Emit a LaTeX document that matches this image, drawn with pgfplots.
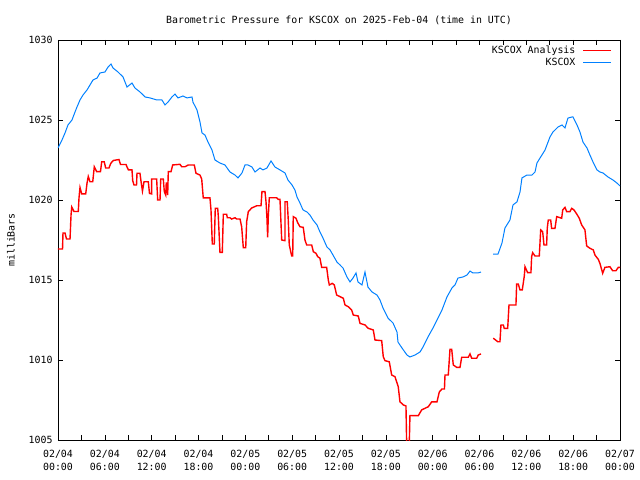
\documentclass[border=0pt]{standalone}
\usepackage{fontspec}
\setmainfont{DejaVu Sans Mono}
\usepackage{pgfplots}
\pgfplotsset{compat=1.18}
\definecolor{gred}{RGB}{255,0,0}
\definecolor{gblue}{RGB}{0,128,255}
\newcommand{\gfont}{\fontsize{9.9bp}{13bp}\selectfont}
\begin{document}
\begin{tikzpicture}
\path[use as bounding box] (-58bp,-40bp) rectangle (582bp,440bp);
\begin{axis}[
  scale only axis, width=562bp, height=400bp,
  at={(0,0)}, anchor=south west,
  xmin=0, xmax=72, ymin=1005, ymax=1030,
  axis line style={line width=0.9bp, black},
  every tick/.style={black, line width=0.6bp},
  major tick length=5bp, minor tick length=5bp,
  tick align=inside,
  xtick={0,6,...,72}, minor xtick={3,9,...,69},
  xticklabels={{02/04\\00:00},{02/04\\06:00},{02/04\\12:00},{02/04\\18:00},{02/05\\00:00},{02/05\\06:00},{02/05\\12:00},{02/05\\18:00},{02/06\\00:00},{02/06\\06:00},{02/06\\12:00},{02/06\\18:00},{02/07\\00:00}},
  xticklabel style={align=center, font=\gfont, yshift=-7bp},
  ytick={1005,1010,...,1030},
  yticklabel style={font=\gfont, xshift=-2bp, /pgf/number format/1000 sep={}, /pgf/number format/assume math mode=true},
  title={Barometric Pressure for KSCOX on 2025-Feb-04 (time in UTC)},
  title style={font=\gfont, at={(axis description cs:0.5,1)}, yshift=14bp, anchor=center},
  ylabel={milliBars},
  every axis y label/.style={at={(axis description cs:0,0.5)}, xshift=-47bp, rotate=90, anchor=center, font=\gfont},
  unbounded coords=jump,
  legend plot pos=right,
  legend cell align=right,
  legend style={draw=none, fill=none, font=\gfont, at={(axis description cs:1,1)}, anchor=north east, xshift=-8bp, yshift=-4bp, row sep=-1.5bp, column sep=5bp, inner sep=0pt},
  legend image code/.code={\draw[#1] (0bp,0bp) -- (28bp,0bp);},
]
\addplot[gred, line width=1.4bp] coordinates {
(0,1016.94)(0.58,1016.94)(0.64,1017.94)(0.90,1017.94)(1.09,1017.56)(1.54,1017.56)(1.67,1019.06)(1.76,1019.56)(2.05,1019.28)(2.60,1019.28)(2.69,1020.13)(2.82,1020.78)(3.04,1020.38)(3.55,1020.38)(3.72,1021.06)(3.88,1021.47)(4.10,1021.14)(4.45,1021.14)(4.65,1022.08)(4.96,1021.77)(5.44,1021.77)(5.60,1022.39)(5.92,1022.39)(6.11,1022.0)(6.53,1022.0)(6.76,1022.29)(7.08,1022.47)(7.81,1022.53)(8.01,1022.22)(8.71,1022.22)(8.90,1022.0)(9.03,1021.88)(9.48,1021.88)(9.57,1021.21)(9.74,1020.94)(10.06,1020.94)(10.12,1021.67)(10.50,1021.67)(10.63,1021.19)(10.82,1020.56)(11.02,1021.14)(11.57,1021.14)(11.72,1020.41)(12.00,1020.38)(12.00,1021.31)(12.64,1021.31)(12.77,1020.0)(13.07,1020.0)(13.16,1021.31)(13.49,1021.31)(13.62,1020.52)(13.80,1020.31)(13.87,1021.06)(13.96,1021.06)(14.05,1020.31)(14.13,1021.77)(14.48,1021.77)(14.69,1022.19)(15.63,1022.23)(15.85,1022.08)(16.27,1022.08)(16.69,1022.19)(17.46,1022.19)(17.68,1021.67)(18.19,1021.56)(18.41,1021.31)(18.61,1020.13)(19.47,1020.13)(19.60,1019.38)(19.77,1017.25)(20.02,1017.25)(20.15,1019.48)(20.46,1019.48)(20.54,1018.96)(20.75,1016.73)(21.05,1016.73)(21.18,1019.11)(21.61,1019.11)(21.69,1018.89)(22.03,1018.89)(22.25,1018.81)(22.68,1018.89)(22.89,1018.81)(23.32,1018.81)(23.53,1018.33)(23.74,1017.02)(24.05,1017.02)(24.17,1018.64)(24.38,1019.27)(24.81,1019.5)(25.46,1019.64)(26.01,1019.64)(26.13,1020.52)(26.52,1020.52)(26.65,1019.89)(26.77,1018.88)(26.86,1017.67)(26.94,1018.96)(27.07,1020.14)(28.02,1020.14)(28.22,1020.04)(28.44,1020.04)(28.66,1017.5)(29.08,1017.46)(29.08,1019.89)(29.37,1019.89)(29.50,1018.75)(29.63,1017.19)(29.94,1016.5)(30.07,1016.5)(30.14,1018.96)(30.49,1018.86)(30.71,1018.58)(31.00,1018.33)(31.42,1018.29)(31.64,1017.5)(31.86,1017.19)(32.50,1017.19)(32.71,1016.77)(33.05,1016.67)(33.27,1016.46)(33.56,1016.36)(33.78,1015.79)(34.42,1015.79)(34.63,1015.0)(34.76,1014.69)(35.14,1014.79)(35.40,1014.69)(35.70,1014.06)(36.13,1013.96)(36.55,1013.86)(36.77,1013.44)(37.19,1013.33)(37.62,1013.13)(37.83,1012.81)(38.47,1012.75)(38.69,1012.29)(39.33,1012.19)(39.75,1011.98)(40.39,1011.88)(40.61,1011.25)(41.47,1011.21)(41.67,1010.21)(41.89,1009.96)(42.44,1009.89)(42.75,1009.06)(43.17,1008.96)(43.59,1008.33)(43.81,1007.39)(44.24,1007.19)(44.58,1007.13)(44.62,1006.06)(44.67,1004.69)(45.00,1004.69)(45.09,1006.53)(46.16,1006.52)(46.59,1006.88)(47.01,1006.98)(47.44,1007.08)(47.87,1007.38)(48.55,1007.38)(48.85,1008.0)(49.19,1008.19)(49.51,1008.19)(49.58,1009.06)(50.00,1009.06)(50.22,1010.67)(50.44,1010.67)(50.64,1009.69)(51.08,1009.54)(51.50,1009.54)(51.72,1010.17)(52.56,1010.17)(52.78,1010.38)(53.00,1010.11)(53.64,1010.11)(53.84,1010.31)(54.19,1010.38)
(55,nan)
(55.76,1011.36)(56.07,1011.25)(56.33,1011.14)(56.62,1011.14)(56.75,1012.19)(57.05,1012.19)(57.17,1011.98)(57.61,1011.98)(57.78,1013.44)(58.67,1013.44)(58.76,1014.75)(58.97,1014.75)(59.19,1014.38)(59.48,1014.38)(59.74,1015.25)(59.83,1015.83)(60.17,1015.46)(60.59,1015.46)(60.68,1016.46)(60.81,1016.71)(61.11,1016.5)(61.66,1016.5)(61.84,1018.13)(62.09,1018.02)(62.26,1017.19)(62.60,1017.19)(62.68,1018.23)(62.81,1018.75)(63.12,1018.75)(63.24,1018.23)(63.67,1018.23)(63.89,1018.96)(64.53,1018.86)(64.66,1019.38)(64.95,1019.54)(65.17,1019.27)(65.59,1019.27)(65.81,1019.48)(66.10,1019.38)(66.45,1019.13)(66.78,1018.86)(67.09,1018.44)(67.51,1018.13)(67.73,1017.13)(68.15,1016.98)(68.58,1016.88)(68.79,1016.56)(69.22,1016.29)(69.43,1016.04)(69.78,1015.42)(70.07,1015.79)(70.71,1015.83)(71.06,1015.58)(71.48,1015.58)(71.78,1015.79)(72.0,1015.79)
};
\addlegendentry{KSCOX Analysis}
\addplot[gblue, line width=1bp] coordinates {
(0,1023.25)(0.51,1023.75)(0.90,1024.19)(1.28,1024.69)(1.79,1025.0)(2.18,1025.5)(2.43,1025.81)(2.82,1026.25)(3.20,1026.56)(3.72,1026.88)(4.10,1027.19)(4.48,1027.5)(5.00,1027.62)(5.38,1027.94)(6.02,1028.0)(6.41,1028.31)(6.79,1028.5)(7.05,1028.25)(7.69,1028.0)(8.33,1027.69)(8.84,1027.06)(9.48,1027.31)(9.86,1027.0)(10.51,1026.75)(11.15,1026.44)(11.79,1026.38)(12.68,1026.25)(13.32,1026.25)(13.71,1025.94)(14.09,1026.12)(14.60,1026.44)(14.99,1026.62)(15.37,1026.38)(16.01,1026.5)(16.53,1026.38)(17.17,1026.44)(17.29,1026.12)(17.81,1025.62)(18.19,1024.88)(18.45,1024.19)(18.83,1024.06)(19.22,1023.62)(19.73,1023.12)(20.11,1022.5)(20.75,1022.31)(21.39,1022.19)(22.03,1021.75)(22.68,1021.56)(23.06,1021.38)(23.57,1021.69)(23.96,1022.19)(24.34,1022.19)(24.85,1022.06)(25.24,1021.75)(25.88,1022.0)(26.26,1021.88)(26.77,1022.0)(27.29,1022.44)(27.80,1022.06)(28.44,1021.88)(29.08,1021.69)(29.46,1021.25)(29.98,1020.94)(30.36,1020.62)(30.62,1020.19)(31.00,1019.81)(31.39,1019.38)(31.90,1019.25)(32.28,1019.06)(32.67,1018.75)(33.18,1018.44)(33.56,1018.0)(33.95,1017.62)(34.46,1017.06)(34.85,1016.88)(35.23,1016.56)(35.74,1016.12)(36.13,1015.94)(36.51,1015.75)(37.02,1015.19)(37.41,1014.88)(37.79,1015.12)(38.18,1015.44)(38.43,1014.88)(38.94,1014.69)(39.33,1015.5)(39.71,1014.56)(40.23,1014.25)(40.87,1014.06)(41.25,1013.75)(41.64,1013.25)(42.28,1012.62)(42.92,1012.31)(43.43,1011.75)(43.56,1011.12)(44.07,1010.75)(44.71,1010.31)(45.09,1010.19)(45.73,1010.31)(46.38,1010.5)(46.76,1010.81)(47.40,1011.44)(48.04,1012.0)(48.68,1012.62)(49.19,1013.12)(49.83,1013.94)(50.47,1014.5)(50.86,1014.69)(51.24,1015.12)(51.88,1015.19)(52.40,1015.31)(52.78,1015.56)(53.16,1015.44)(53.81,1015.44)(54.19,1015.5)
(55,nan)
(55.73,1016.62)(56.37,1016.62)(56.88,1017.31)(57.26,1018.25)(57.90,1018.75)(58.29,1019.69)(58.80,1019.88)(59.19,1020.5)(59.44,1021.38)(60.08,1021.56)(60.72,1021.56)(61.11,1021.75)(61.36,1022.31)(61.75,1022.62)(62.39,1023.12)(63.03,1023.94)(63.41,1024.25)(64.05,1024.56)(64.57,1024.69)(64.95,1024.5)(65.33,1025.12)(65.85,1025.19)(65.97,1025.19)(66.49,1024.69)(66.87,1024.25)(67.26,1023.62)(67.77,1023.25)(68.15,1022.81)(68.54,1022.38)(69.05,1021.88)(69.43,1021.75)(69.82,1021.69)(70.46,1021.44)(71.10,1021.25)(71.61,1021.06)(72.0,1020.88)
};
\addlegendentry{KSCOX}
\end{axis}
\end{tikzpicture}
\end{document}
